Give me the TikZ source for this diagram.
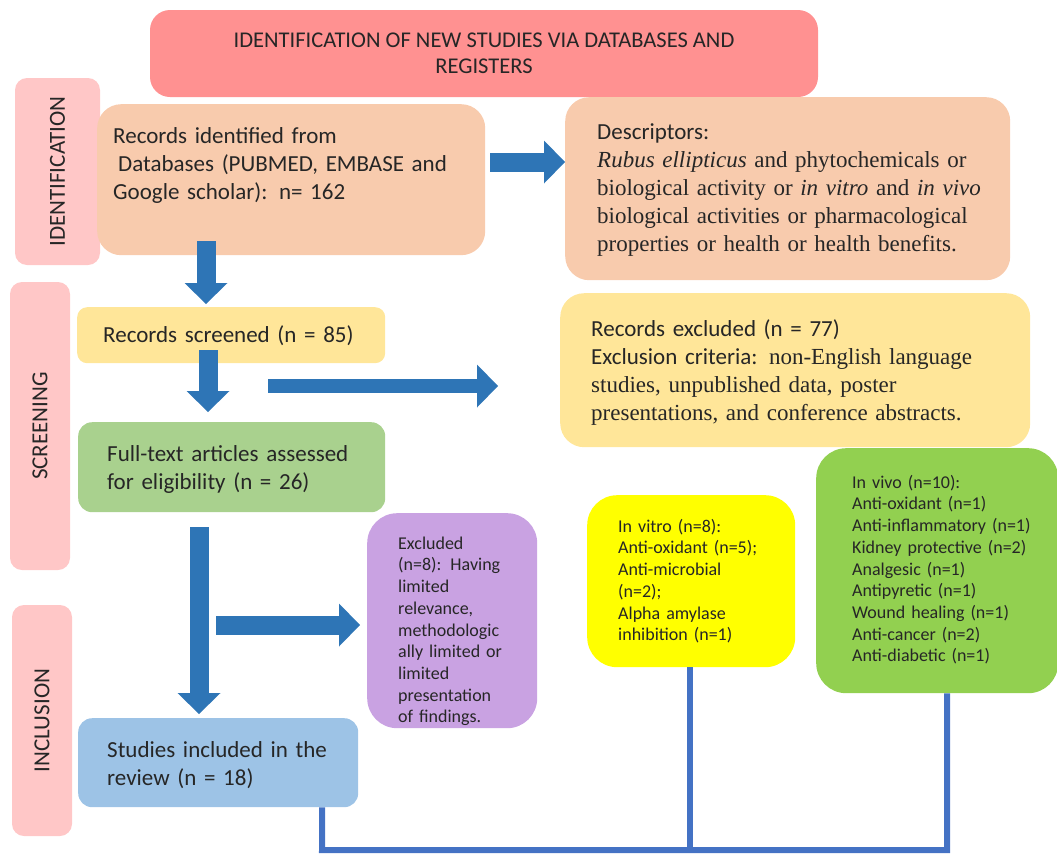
\documentclass[tikz,border=0pt]{standalone}
\usepackage{fontspec}
\setmainfont{Carlito}
\newfontfamily\tmfont{Liberation Serif}
\usetikzlibrary{arrows.meta}
\definecolor{titlered}{HTML}{FF9191}
\definecolor{phasepink}{HTML}{FFC7C7}
\definecolor{peach}{HTML}{F8CBAD}
\definecolor{paleyellow}{HTML}{FFE699}
\definecolor{palegreen}{HTML}{A9D18E}
\definecolor{lilac}{HTML}{C9A2E2}
\definecolor{skyblue}{HTML}{9DC3E6}
\definecolor{vitroyellow}{HTML}{FFFF00}
\definecolor{vivogreen}{HTML}{92D050}
\definecolor{arrowblue}{HTML}{2E75B6}
\definecolor{linkblue}{HTML}{4472C4}
\newcommand\lpad[1]{\leftskip=#1pt\relax}

\begin{document}
\begin{tikzpicture}[x=1pt, y=-1pt,
    box/.style={rounded corners=24pt, anchor=north west, inner sep=0pt,
      align=left, text=black!85, font=\fontsize{23}{28}\selectfont},
    small/.style={font=\fontsize{18}{21.7}\selectfont, rounded corners=30pt},
    phase/.style={rotate=90, fill=phasepink, rounded corners=12pt,
      inner sep=0pt, text=black!85, font=\fontsize{23}{28}\selectfont},
    blockarrow/.style={draw=arrowblue, line width=19pt,
      -{Triangle[length=21pt, width=43pt, line width=0pt]}},
    link/.style={draw=linkblue, line width=6pt}
    ]
    \useasboundingbox (0,0) rectangle (1057,854);

    % phase labels
    \node[phase, minimum width=187pt, minimum height=85pt] (idphase) at (57.5,171.5) {IDENTIFICATION};
    \node[phase, minimum width=288pt, minimum height=60pt] (scphase) at (40,426) {SCREENING};
    \node[phase, minimum width=231pt, minimum height=60pt] (inphase) at (42,720.5) {INCLUSION};

    % title
    \node[fill=titlered, rounded corners=20pt, minimum width=668pt, minimum height=87pt,
      align=center, text=black!85, font=\fontsize{22.5}{26}\selectfont] (title) at (484,53.5)
      {IDENTIFICATION OF NEW STUDIES VIA DATABASES AND\\REGISTERS};

    % boxes
    \node[box, fill=peach, text width=388pt, text height=39pt, text depth=112pt] (recid) at (97,104)
      {\lpad{16}Records identified from\\\hspace*{5pt}Databases (PUBMED, EMBASE and\\Google scholar): n= 162\par};
    \node[box, fill=peach, text width=445pt, text height=42pt, text depth=141pt] (descr) at (565,97)
      {\lpad{32}Descriptors:\\\tmfont\textit{Rubus ellipticus} and phytochemicals or\\biological activity or \textit{in vitro} and \textit{in vivo}\\biological activities or pharmacological\\properties or health or health benefits.\par};
    \node[box, fill=paleyellow, rounded corners=10pt, text width=308pt, text height=35pt, text depth=21pt] (screened) at (77,307)
      {\lpad{26}Records screened (n = 85)\par};
    \node[box, fill=paleyellow, text width=470pt, text height=43pt, text depth=111pt] (excl) at (560,293)
      {\lpad{31}Records excluded (n = 77)\\Exclusion criteria: {\tmfont non-English language}\\\tmfont studies, unpublished data, poster\\presentations, and conference abstracts.\par};
    \node[box, fill=palegreen, rounded corners=14pt, text width=307pt, text height=39pt, text depth=51pt] (fulltext) at (78,422)
      {\lpad{29}Full-text articles assessed\\for eligibility (n = 26)\par};
    \node[box, small, fill=lilac, text width=170pt, text height=36pt, text depth=179pt] (exclft) at (367,513)
      {\lpad{31}Excluded\\(n=8): Having\\limited\\relevance,\\methodologic\\ally limited or\\limited\\presentation\\of findings.\par};
    \node[box, fill=skyblue, rounded corners=14pt, text width=280pt, text height=39pt, text depth=50pt] (studies) at (78,718)
      {\lpad{29}Studies included in the\\review (n = 18)\par};
    \node[box, small, fill=vitroyellow, text width=208pt, text height=37pt, text depth=135pt] (vitro) at (587,495)
      {\lpad{31}In vitro (n=8):\\Anti-oxidant (n=5);\\Anti-microbial\\(n=2);\\Alpha amylase\\inhibition (n=1)\par};
    \node[box, small, fill=vivogreen, text width=242pt, text height=40pt, text depth=205pt] (vivo) at (816,448)
      {\lpad{36}In vivo (n=10):\\Anti-oxidant (n=1)\\Anti-inflammatory (n=1)\\Kidney protective (n=2)\\Analgesic (n=1)\\Antipyretic (n=1)\\Wound healing (n=1)\\Anti-cancer (n=2)\\Anti-diabetic (n=1)\par};

    % block arrows
    \coordinate (r1) at (490,162);
    \coordinate (d1) at (206,241);
    \coordinate (d2) at (208,350);
    \coordinate (r2) at (268,386);
    \coordinate (d3) at (199,527);
    \coordinate (r3) at (216,625);
    \draw[blockarrow] (r1) -- (r1 -| descr.west);
    \draw[blockarrow, shorten >=3pt] (d1) -- (d1 |- screened.north);
    \draw[blockarrow, shorten >=10pt] (d2) -- (d2 |- fulltext.north);
    \draw[blockarrow, line width=14pt, shorten >=62pt] (r2) -- (r2 -| excl.west);
    \draw[blockarrow, shorten >=4pt] (d3) -- (d3 |- studies.north);
    \draw[blockarrow, shorten >=7pt] (r3) -- (r3 -| exclft.west);

    % links to the study types
    \coordinate (floor) at (322,850);
    \draw[link] ([xshift=104pt]studies.south) -- (floor) -| ([xshift=10pt]vivo.south);
    \draw[link] ([xshift=-1pt]vitro.south) -- ([xshift=-1pt]vitro.south |- floor);
\end{tikzpicture}
\end{document}
